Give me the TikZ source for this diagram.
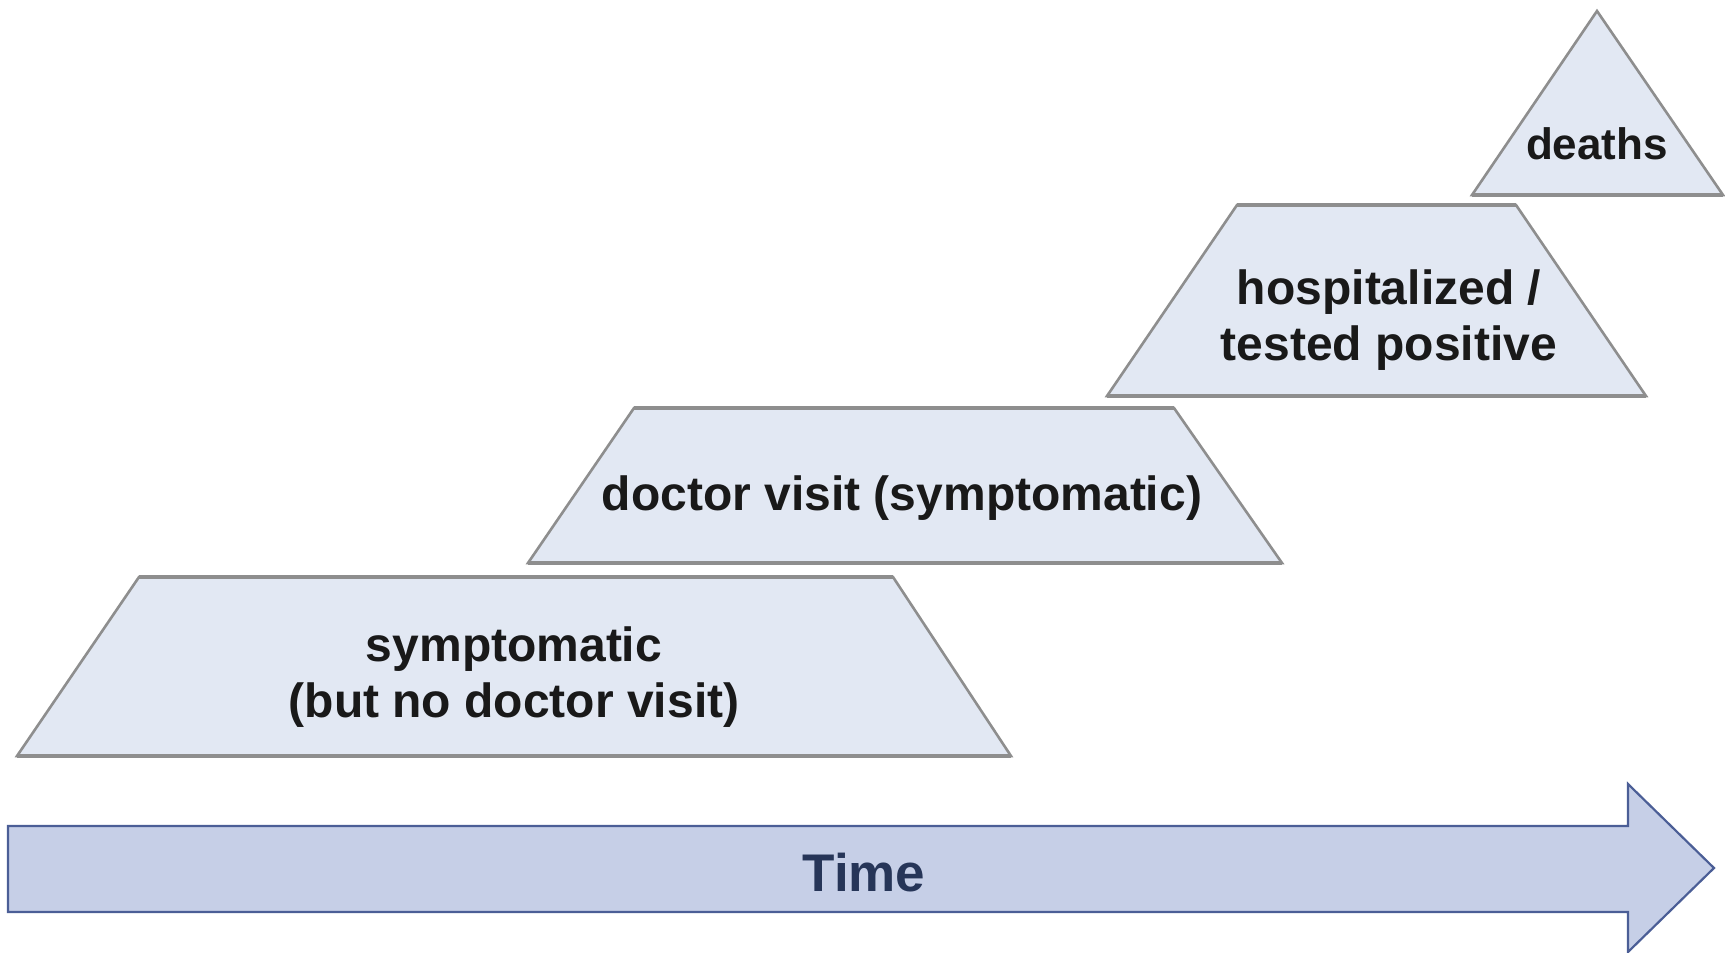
\documentclass[tikz,border=0pt]{standalone}
\usepackage{fontspec}
\setmainfont{Liberation Sans}
\begin{document}
\begin{tikzpicture}[x=1pt,y=-1pt,
  stage/.style={fill=stagefill,draw=stageline,line width=2.6pt,line join=miter},
  edge/.style={draw=stageline,line width=4pt},
  lbl/.style={font=\bfseries\fontsize{48}{56}\selectfont,align=center,text=black!90,inner sep=0pt},
  timearrow/.style={fill=arrowfill,draw=arrowline,line width=2.2pt,line join=miter},
  timelbl/.style={font=\bfseries\fontsize{53}{60}\selectfont,text=timetext,inner sep=0pt}]
\definecolor{stagefill}{HTML}{E2E8F3}
\definecolor{stageline}{HTML}{8E8E8E}
\definecolor{arrowfill}{HTML}{C6CFE7}
\definecolor{arrowline}{HTML}{4B5E96}
\definecolor{timetext}{HTML}{263558}
\useasboundingbox (0,0) rectangle (1725,953);
% deaths
\draw[stage] (1597,11) -- (1723,195) -- (1472,195) -- cycle;
\draw[edge] (1472,195) -- (1723,195);
\node[lbl,font=\bfseries\fontsize{44}{52}\selectfont] (deaths) at (1597,144) {deaths};
% hospitalized
\draw[stage] (1237,205) -- (1516,205) -- (1646,396) -- (1107,396) -- cycle;
\draw[edge] (1237,205) -- (1516,205) (1107,396) -- (1646,396);
\node[lbl] (hosp) at (1389,320) {hospitalized /\\tested positive};
% doctor visit
\draw[stage] (634,408) -- (1174,408) -- (1282,563) -- (528,563) -- cycle;
\draw[edge] (634,408) -- (1174,408) (528,563) -- (1282,563);
\node[lbl] (doctor) at (902,498) {doctor visit (symptomatic)};
% symptomatic
\draw[stage] (139,577) -- (893,577) -- (1011,756) -- (17,756) -- cycle;
\draw[edge] (139,577) -- (893,577) (17,756) -- (1011,756);
\node[lbl] (sympt) at (514,677) {symptomatic\\(but no doctor visit)};
% time arrow
\draw[timearrow] (8,826) -- (1628,826) -- (1628,784) -- (1714,868) -- (1628,952) -- (1628,912) -- (8,912) -- cycle;
\node[timelbl] (time) at (864,873) {Time};
\end{tikzpicture}
\end{document}
